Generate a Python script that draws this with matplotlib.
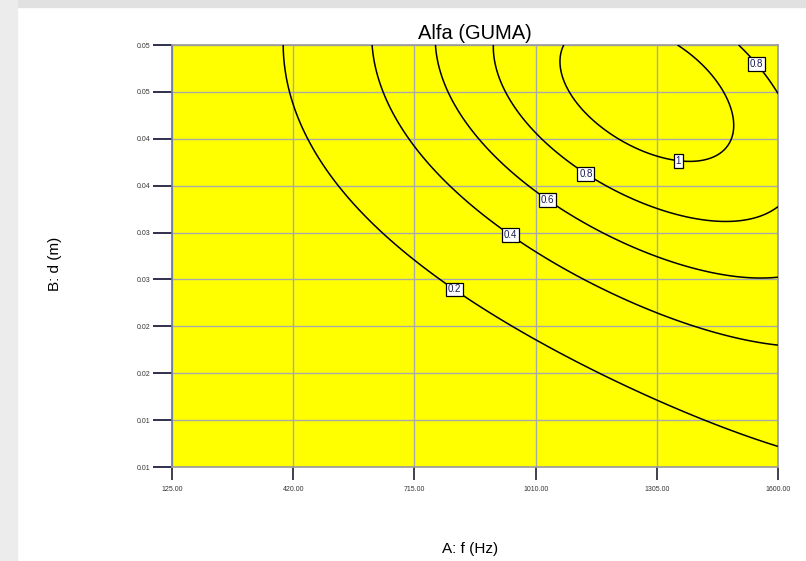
import numpy as np
import matplotlib
matplotlib.use("Agg")
import matplotlib.pyplot as plt
from matplotlib.patches import Rectangle

plt.rcParams['font.family'] = ['Liberation Sans', 'DejaVu Sans']

# factor ranges
f_low, f_high = 125.0, 1600.0
d_low, d_high = 0.01, 0.05

x_ticks = [125, 420, 715, 1010, 1305, 1600]
x_tick_labels = ["125.00", "420.00", "715.00", "1010.00", "1305.00", "1600.00"]
y_tick_labels = ["0.01", "0.01", "0.02", "0.02", "0.03", "0.03", "0.04", "0.04", "0.05", "0.05"]

# cubic model for the power-transformed response Alfa^lam, coded factors:
# 1, A, B, AB, A^2, B^2, A^2B, AB^2, A^3, B^3
lam = 0.05
coefs = [0.93941, 0.07507, 0.07311, 0.01772, -0.01391, -0.01056,
         -0.04345, -0.02256, -0.02072, -0.01709]

levels = [0.2, 0.4, 0.6, 0.8, 1.0]
label_pos = [(816, 0.02706), (953, 0.03218), (1043, 0.03559),
             (1138, 0.03815), (1359, 0.03948), (1559, 0.04858)]

f = np.linspace(f_low, f_high, 400)
d = np.linspace(d_low, d_high, 400)
F, D = np.meshgrid(f, d)
A = (F - (f_low + f_high) / 2) / ((f_high - f_low) / 2)
B = (D - (d_low + d_high) / 2) / ((d_high - d_low) / 2)
terms = [np.ones_like(A), A, B, A*B, A**2, B**2, A**2*B, A*B**2, A**3, B**3]
g = sum(c * t for c, t in zip(coefs, terms))
alfa = g ** (1.0 / lam)

fig = plt.figure(figsize=(8.06, 5.61), dpi=100)
fig.patches.append(Rectangle((0, 1 - 7/561), 1, 7/561, transform=fig.transFigure,
                             color='#e1e1e1', zorder=0))
fig.patches.append(Rectangle((0, 0), 17/806, 1, transform=fig.transFigure,
                             color='#ececec', zorder=0))

ax = fig.add_axes([172/806, 1 - 467/561, 606/806, 422/561])
ax.set_facecolor('#ffff00')
ax.set_xlim(f_low, f_high)
ax.set_ylim(d_low, d_high)

cs = ax.contour(F, D, alfa, levels=levels, colors='black', linewidths=1.1, zorder=3)
lbls = ax.clabel(cs, inline=False, manual=label_pos, fmt=lambda v: f"{v:g}",
                 fontsize=7, colors='#1a1a50')
for t in lbls:
    t.set_rotation(0)
    t.set_bbox(dict(boxstyle='square,pad=0.2', facecolor='white',
                    edgecolor='black', linewidth=0.9))
    t.set_zorder(5)

ax.set_xticks(x_ticks)
ax.set_xticklabels(x_tick_labels)
ax.set_yticks(np.linspace(d_low, d_high, len(y_tick_labels)))
ax.set_yticklabels(y_tick_labels)
ax.grid(True, color='#a9a9a9', linewidth=1.0, zorder=1)
ax.set_axisbelow(True)

ax.tick_params(axis='x', direction='out', length=9, width=1.3, color='#303040',
               labelsize=5, labelcolor='#333333', pad=5)
ax.tick_params(axis='y', direction='out', length=13.5, width=1.3, color='#202040',
               labelsize=5, labelcolor='#333333', pad=2)
for side in ['top', 'right', 'bottom']:
    ax.spines[side].set_color('#9a9a9a')
ax.spines['left'].set_color('#6a74a8')
for s in ax.spines.values():
    s.set_linewidth(1.2)

ax.set_title("Alfa (GUMA)", fontsize=14.5, pad=4)
ax.set_xlabel("A: f (Hz)", fontsize=11)
ax.xaxis.set_label_coords((470 - 172) / 606, -(542 - 467) / 422)
ax.set_ylabel("B: d (m)", fontsize=11)
ax.yaxis.set_label_coords((62 - 172) / 606, (467 - 264) / 422)

fig.savefig("out.png", dpi=100)
